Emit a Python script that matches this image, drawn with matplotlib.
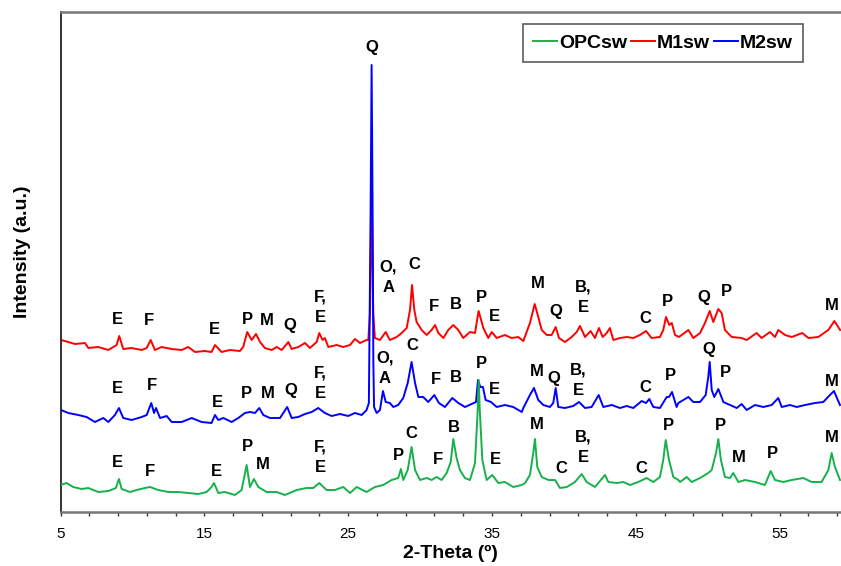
import matplotlib
matplotlib.use("Agg")
import matplotlib.pyplot as plt
from matplotlib.ticker import FixedLocator
from matplotlib.lines import Line2D

# ---- data ----
m1_theta = [5.03, 5.54, 6.0, 6.7, 6.93, 7.62, 8.32, 8.9, 9.08, 9.36, 9.94, 10.64, 10.99, 11.27,
            11.56, 12.03, 12.73, 13.42, 13.88, 14.35, 15.04, 15.5, 15.74, 16.2, 16.78, 17.47,
            17.7, 17.98, 18.29, 18.59, 18.87, 19.21, 19.68, 20.03, 20.38, 20.84, 21.07, 21.53,
            22.0, 22.34, 22.81, 22.99, 23.22, 23.38, 23.62, 24.2, 24.66, 25.13, 25.47, 25.82,
            26.28, 26.4, 26.52, 26.63, 26.74, 26.86, 27.21, 27.61, 27.9, 28.37, 28.72, 29.07,
            29.3, 29.44, 29.6, 29.76, 30.11, 30.46, 30.8, 31.04, 31.27, 31.62, 31.96, 32.31,
            32.66, 33.0, 33.47, 33.82, 34.07, 34.4, 34.74, 34.98, 35.33, 35.9, 36.37, 36.83,
            37.18, 37.64, 37.97, 38.22, 38.46, 38.81, 39.15, 39.43, 39.66, 40.08, 40.54, 40.89,
            41.12, 41.47, 41.86, 42.16, 42.44, 42.7, 42.98, 43.2, 43.44, 43.9, 44.37, 44.83,
            45.29, 45.71, 46.1, 46.68, 46.91, 47.1, 47.33, 47.5, 47.73, 48.0, 48.66, 49.0,
            49.47, 49.81, 50.14, 50.39, 50.74, 50.97, 51.2, 51.67, 52.36, 52.71, 53.4, 53.75,
            54.33, 54.68, 54.91, 55.38, 55.84, 56.58, 57.0, 57.69, 58.39, 58.81, 59.21]
m1_int = [172, 170, 168, 169, 164, 165, 162, 167, 176, 163, 164, 162, 164, 172,
          162, 165, 163, 162, 165, 160, 161, 160, 167, 160, 162, 161,
          165, 180, 172, 178, 170, 164, 162, 165, 162, 170, 163, 165,
          169, 164, 170, 179, 172, 174, 165, 167, 165, 167, 173, 169,
          172, 172, 200, 325, 200, 174, 172, 180, 172, 175, 179, 184,
          202, 227, 202, 190, 182, 177, 182, 187, 179, 174, 182, 187,
          182, 174, 180, 179, 201, 184, 174, 180, 174, 177, 174, 175,
          171, 189, 208, 195, 182, 177, 177, 185, 174, 170, 175, 180,
          186, 175, 181, 174, 184, 175, 179, 184, 172, 174, 175, 174,
          177, 181, 174, 175, 182, 195, 187, 189, 177, 175, 182, 174,
          179, 189, 201, 190, 203, 199, 182, 175, 174, 172, 179, 174,
          180, 175, 182, 177, 175, 179, 174, 175, 182, 191, 182]

m2_theta = [5.03, 5.54, 6.23, 6.81, 7.39, 7.97, 8.32, 8.78, 9.06, 9.36, 9.94, 10.64, 10.99, 11.31,
            11.5, 11.64, 11.92, 12.38, 12.73, 13.42, 14.12, 14.81, 15.5, 15.74, 15.97, 16.32,
            16.9, 17.36, 17.82, 18.17, 18.52, 18.82, 19.1, 19.56, 20.26, 20.76, 21.07, 21.53,
            22.0, 22.46, 22.92, 23.38, 23.85, 24.43, 25.0, 25.47, 25.94, 26.28, 26.44, 26.56,
            26.63, 26.7, 26.75, 26.8, 26.98, 27.21, 27.42, 27.61, 27.9, 28.14, 28.48, 28.83,
            29.14, 29.41, 29.65, 29.88, 30.22, 30.57, 30.99, 31.31, 31.73, 32.24, 32.66, 33.12,
            33.59, 33.89, 34.03, 34.19, 34.37, 34.56, 34.93, 35.33, 35.9, 36.48, 37.07, 37.18,
            37.64, 37.92, 38.22, 38.57, 39.03, 39.26, 39.43, 39.61, 40.08, 40.65, 41.05, 41.47,
            41.93, 42.42, 42.74, 43.33, 43.9, 44.37, 44.83, 45.41, 45.71, 45.94, 46.22, 46.68,
            47.15, 47.31, 47.52, 47.84, 47.96, 48.66, 49.0, 49.47, 49.86, 50.04, 50.14, 50.28,
            50.46, 50.74, 51.09, 51.55, 52.02, 52.36, 52.71, 53.29, 53.87, 54.45, 54.91, 55.15,
            55.72, 56.19, 56.77, 57.46, 58.04, 58.5, 58.78, 59.2]
m2_int = [102, 99, 97, 95, 90, 94, 90, 97, 104, 94, 92, 95, 97, 109,
          99, 104, 94, 96, 90, 90, 94, 90, 89, 97, 92, 94,
          90, 94, 99, 100, 99, 104, 97, 94, 94, 105, 94, 95,
          98, 100, 104, 99, 96, 98, 96, 99, 97, 102, 109, 300,
          447, 300, 150, 105, 99, 102, 121, 110, 109, 105, 107, 114,
          129, 150, 129, 115, 115, 110, 117, 109, 105, 114, 109, 105,
          108, 110, 132, 125, 125, 112, 110, 105, 107, 105, 100, 104,
          117, 124, 112, 107, 105, 109, 124, 105, 104, 106, 110, 104,
          105, 117, 105, 107, 104, 106, 104, 111, 109, 113, 105, 104,
          115, 115, 120, 105, 109, 115, 110, 110, 117, 135, 150, 122,
          115, 123, 110, 107, 104, 108, 102, 107, 105, 107, 114, 105,
          107, 105, 107, 109, 110, 117, 121, 107]

opc_theta = [5.03, 5.42, 5.88, 6.47, 6.93, 7.62, 8.32, 8.85, 9.06, 9.25, 9.83, 10.29, 10.87, 11.22,
             11.79, 12.49, 13.18, 13.88, 14.58, 15.16, 15.5, 15.67, 15.97, 16.43, 17.13, 17.59,
             17.94, 18.17, 18.45, 18.75, 19.33, 20.03, 20.6, 21.42, 22.11, 22.57, 22.99, 23.5,
             24.08, 24.66, 25.13, 25.59, 26.28, 26.86, 27.44, 28.02, 28.48, 28.67, 28.83, 29.14,
             29.41, 29.65, 29.99, 30.46, 30.8, 31.15, 31.5, 31.85, 32.13, 32.31, 32.54, 32.77,
             33.12, 33.47, 33.82, 34.0, 34.08, 34.15, 34.33, 34.63, 35.02, 35.44, 35.9, 36.48,
             37.07, 37.3, 37.64, 37.87, 37.99, 38.15, 38.46, 38.92, 39.39, 39.73, 40.2, 40.77,
             41.24, 41.58, 42.16, 42.86, 43.09, 43.67, 44.13, 44.6, 45.17, 45.75, 46.22, 46.68,
             46.91, 47.08, 47.31, 47.61, 47.96, 48.08, 48.54, 48.89, 49.47, 50.04, 50.28, 50.58,
             50.74, 50.92, 51.2, 51.55, 51.78, 52.13, 52.59, 53.29, 53.98, 54.38, 54.68, 55.26,
             55.84, 56.65, 57.23, 57.92, 58.39, 58.62, 58.85, 59.2]
opc_int = [27, 29, 25, 23, 24, 20, 21, 24, 33, 23, 20, 22, 24, 25,
           22, 20, 20, 19, 18, 20, 25, 29, 19, 20, 17, 22,
           47, 25, 33, 25, 20, 20, 17, 22, 24, 24, 29, 22,
           22, 25, 19, 25, 20, 25, 27, 32, 34, 43, 32, 42,
           65, 42, 32, 34, 32, 35, 32, 39, 50, 73, 54, 42,
           34, 32, 49, 100, 132, 102, 52, 32, 37, 29, 30, 25,
           27, 29, 37, 59, 73, 45, 35, 32, 32, 24, 25, 30,
           38, 30, 25, 37, 30, 29, 30, 27, 30, 34, 30, 35,
           52, 72, 52, 35, 32, 30, 35, 30, 34, 39, 42, 59,
           73, 52, 35, 34, 39, 30, 32, 30, 27, 41, 32, 30,
           32, 34, 30, 30, 42, 59, 45, 32]

# phase labels: text, 2-theta, height
m1_labels = ["E", "F", "E", "P", "M", "Q", "F,\nE", "Q", "O,\nA", "C", "F", "B", "P", "E",
             "M", "Q", "B,\nE", "C", "P", "Q", "P", "M"]
m1_lab_x = [8.99, 11.15, 15.67, 18.03, 19.35, 20.95, 23.04, 26.66, 27.79, 29.59, 30.98, 32.5,
            34.3, 35.14, 38.2, 39.45, 41.33, 45.64, 47.17, 49.74, 51.27, 58.64]
m1_lab_y = [193, 192, 183, 193, 192, 187, 205, 464, 235, 248, 206, 208,
            215, 196, 229, 201, 215, 194, 211, 215, 221, 207]

m2_labels = ["E", "F", "E", "P", "M", "Q", "F,\nE", "O,\nA", "C", "F", "B", "P", "E",
             "M", "Q", "B,\nE", "C", "P", "Q", "P", "M"]
m2_lab_x = [8.99, 11.36, 15.88, 17.96, 19.42, 21.02, 23.04, 27.56, 29.44, 31.1, 32.5, 34.24,
            35.14, 38.13, 39.31, 40.98, 45.64, 47.38, 50.09, 51.2, 58.64]
m2_lab_y = [124, 127, 110, 119, 119, 122, 129, 144, 167, 133, 135, 149,
            123, 141, 134, 132, 125, 137, 163, 140, 131]

opc_labels = ["E", "F", "E", "P", "M", "F,\nE", "P", "C", "F", "B", "E", "M", "C", "B,\nE",
              "C", "P", "P", "M", "P", "M"]
opc_lab_x = [8.99, 11.22, 15.81, 18.03, 19.07, 23.04, 28.53, 29.37, 31.24, 32.36, 35.21, 38.13,
             39.8, 41.33, 45.36, 47.24, 50.86, 52.18, 54.48, 58.64]
opc_lab_y = [50, 41, 41, 66, 48, 55, 57, 79, 53, 85, 53, 88,
             44, 65, 44, 87, 87, 55, 59, 75]

x_major = [5, 15, 25, 35, 45, 55]
x_minor = [7, 9, 11, 13, 17, 19, 21, 23, 27, 29, 31, 33, 37, 39, 41, 43, 47, 49, 51, 53, 57, 59]

GREEN = "#17b14b"
RED = "#ff0000"
BLUE = "#0000ff"

plt.rcParams['font.family'] = ['Liberation Sans', 'DejaVu Sans']

fig = plt.figure(figsize=(8.41, 5.66), dpi=100)
ax = fig.add_axes([0.072, 0.0954, 0.928, 0.8834])

ax.plot(m1_theta, m1_int, color=RED, lw=1.4, zorder=2)
ax.plot(m2_theta, m2_int, color=BLUE, lw=1.4, zorder=3)
ax.plot(opc_theta, opc_int, color=GREEN, lw=1.4, zorder=4)

for labels, xs, ys in [(m1_labels, m1_lab_x, m1_lab_y),
                       (m2_labels, m2_lab_x, m2_lab_y),
                       (opc_labels, opc_lab_x, opc_lab_y)]:
    for t, x, y in zip(labels, xs, ys):
        ax.text(x, y, t, ha='center', va='center', fontsize=12, fontweight='bold',
                linespacing=1.45, zorder=5)

ax.set_xlim(5, 59.27)
ax.set_ylim(0, 500)
ax.xaxis.set_major_locator(FixedLocator(x_major))
ax.xaxis.set_minor_locator(FixedLocator(x_minor))
ax.tick_params(axis='x', which='both', direction='out', length=3, width=1, colors='#333333',
               labelsize=11, pad=8)
ax.tick_params(axis='x', labelcolor='black')
ax.set_yticks([])

ax.spines['right'].set_visible(False)
ax.spines['left'].set_color('#222222')
ax.spines['left'].set_linewidth(1.3)
ax.spines['top'].set_color('#777777')
ax.spines['top'].set_linewidth(1.8)
ax.spines['bottom'].set_color('#777777')
ax.spines['bottom'].set_linewidth(1.8)

ax.set_xlabel('2-Theta (º)', fontsize=14, fontweight='bold', labelpad=3)
ax.set_ylabel('Intensity (a.u.)', fontsize=14, fontweight='bold')
ax.yaxis.set_label_coords(-0.038, 0.52)

handles = [Line2D([], [], color=GREEN, lw=1.4),
           Line2D([], [], color=RED, lw=1.4),
           Line2D([], [], color=BLUE, lw=1.4)]
leg = ax.legend(handles, ['OPCsw', 'M1sw', 'M2sw'], loc='upper right',
                bbox_to_anchor=(0.951, 0.975), ncol=3, fancybox=False,
                handlelength=1.25, handletextpad=0.1, columnspacing=0.2,
                borderpad=0.5, borderaxespad=0.0, prop={'weight': 'bold', 'size': 14})
leg.get_frame().set_edgecolor('#333333')
leg.get_frame().set_linewidth(1.2)

fig.savefig('out.png', dpi=100)
